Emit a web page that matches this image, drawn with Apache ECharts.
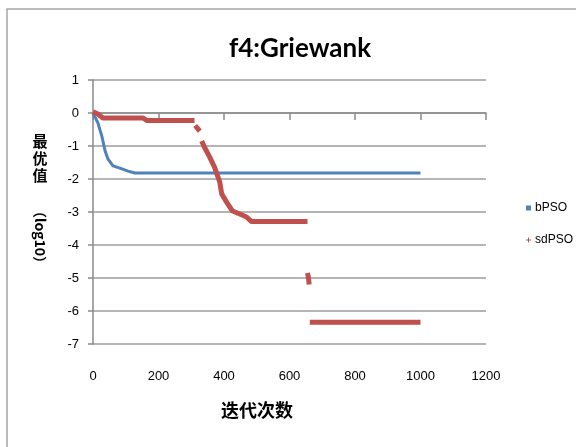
<!DOCTYPE html>
<html>
<head>
<meta charset="utf-8">
<script src="https://cdn.jsdelivr.net/npm/echarts@6/dist/echarts.min.js"></script>
<style>
  html, body { margin: 0; padding: 0; background: #fff; }
  #chart { width: 576px; height: 447px; }
</style>
</head>
<body>
<div id="chart"></div>
<script>
// Convergence curves (best value, log10) against iteration count
const xTicks = [0, 200, 400, 600, 800, 1000, 1200];
const yTicks = [-7, -6, -5, -4, -3, -2, -1, 0, 1];

// bPSO: fast early drop, then flat
const bpsoIter = [0, 6, 15, 27, 37, 46, 61, 82, 107, 128, 1000];
const bpsoVal  = [0, -0.05, -0.3, -0.7, -1.15, -1.4, -1.6, -1.67, -1.76, -1.82, -1.82];

// sdPSO: stepwise descent; null marks a gap between runs of points
const sdpsoIter = [0, 15, 30, 152, 165, 310, null,
                   312, 326, null,
                   332, 340, 356, 371, 387, 393, 408, 426, 448, 469, 484, 655, null,
                   655, 658, 660, null,
                   662, 1000];
const sdpsoVal  = [0.04, -0.03, -0.15, -0.15, -0.23, -0.23, null,
                   -0.38, -0.55, null,
                   -0.85, -1.03, -1.33, -1.64, -2.09, -2.45, -2.7, -2.97, -3.06, -3.15, -3.29, -3.29, null,
                   -4.85, -5.0, -5.2, null,
                   -6.34, -6.34];

const toPairs = (xs, ys) => xs.map((x, i) => (x === null ? '-' : [x, ys[i]]));

const gridColor = '#9c9c9c';
const chart = echarts.init(document.getElementById('chart'));
chart.setOption({
  backgroundColor: '#fff',
  animation: false,
  title: {
    text: 'f4:Griewank',
    left: 295, top: 31, textAlign: 'center',
    textStyle: { fontFamily: 'Lato', fontWeight: 'bold', fontSize: 26, color: '#000' }
  },
  grid: { left: 93, right: 90, top: 80, bottom: 103 },
  legend: {
    orient: 'vertical', left: 521, top: 197, itemGap: 20,
    itemWidth: 5, itemHeight: 5,
    textStyle: { fontFamily: 'Liberation Sans', fontSize: 12, color: '#000', padding: [0, 0, 0, -1] },
    data: [
      { name: 'bPSO', icon: 'rect' },
      { name: 'sdPSO', icon: 'path://M2,0H3V2H5V3H3V5H2V3H0V2H2Z' }
    ]
  },
  xAxis: [
    {
      type: 'value', min: xTicks[0], max: xTicks[xTicks.length - 1], interval: 200,
      axisLine: { show: false }, axisTick: { show: false }, splitLine: { show: false },
      axisLabel: {
        margin: 26, fontFamily: 'Liberation Sans', fontSize: 13, color: '#000',
        formatter: (v) => String(v)
      }
    },
    {
      type: 'value', position: 'bottom', min: xTicks[0], max: xTicks[xTicks.length - 1], interval: 200,
      axisLine: { show: true, onZero: true, onZeroAxisIndex: 0, lineStyle: { color: '#8a8a8a', width: 1.5 } },
      axisTick: { show: true, length: 7, lineStyle: { color: '#8a8a8a', width: 1.5 } },
      axisLabel: { show: false }, splitLine: { show: false }
    }
  ],
  yAxis: {
    type: 'value', min: yTicks[0], max: yTicks[yTicks.length - 1], interval: 1,
    axisLine: { show: true, lineStyle: { color: '#8a8a8a', width: 1.5 } },
    axisTick: { show: true, length: 5, lineStyle: { color: '#8a8a8a', width: 1.5 } },
    splitLine: { show: true, lineStyle: { color: gridColor, width: 1.5 } },
    axisLabel: { margin: 14, fontFamily: 'Liberation Sans', fontSize: 13, color: '#000' }
  },
  series: [
    {
      name: 'bPSO', type: 'line', xAxisIndex: 0, showSymbol: false, connectNulls: false,
      color: '#4f81bd',
      lineStyle: { width: 3, color: '#4f81bd' },
      data: toPairs(bpsoIter, bpsoVal)
    },
    {
      name: 'sdPSO', type: 'line', xAxisIndex: 0, showSymbol: false, connectNulls: false,
      color: '#c0504d',
      lineStyle: { width: 5, color: '#c0504d' },
      data: toPairs(sdpsoIter, sdpsoVal)
    }
  ],
  graphic: [
    {
      type: 'rect', silent: true, z: -1,
      shape: { x: 7, y: 9, width: 600, height: 500 },
      style: { fill: 'none', stroke: '#a6a6a6', lineWidth: 1.5 }
    },
    {
      type: 'text', x: 40, y: 133,
      style: {
        text: '最\n优\n值', fontFamily: 'Noto Sans CJK SC', fontWeight: 'bold', fontSize: 15,
        lineHeight: 17, fill: '#000', align: 'center', verticalAlign: 'top'
      }
    },
    {
      type: 'text', x: 40, y: 237, rotation: -Math.PI / 2,
      style: {
        text: '（log10）', fontFamily: 'Noto Sans CJK SC', fontWeight: 'bold', fontSize: 14,
        fill: '#000', align: 'center', verticalAlign: 'middle'
      }
    },
    {
      type: 'text', x: 257, y: 410,
      style: {
        text: '迭代次数', fontFamily: 'Noto Sans CJK SC', fontWeight: 'bold', fontSize: 18,
        fill: '#000', align: 'center', verticalAlign: 'middle'
      }
    }
  ]
});
</script>
</body>
</html>
